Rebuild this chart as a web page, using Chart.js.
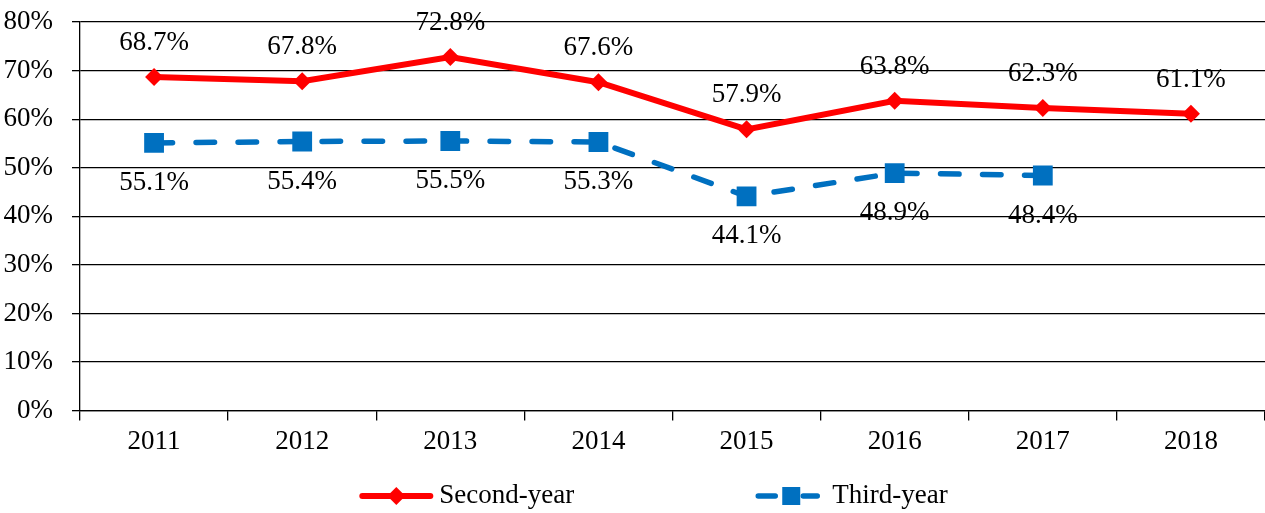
<!DOCTYPE html>
<html>
<head>
<meta charset="utf-8">
<script src="https://cdn.jsdelivr.net/npm/chart.js@4"></script>
<style>
  html, body { margin: 0; padding: 0; background: #fff; overflow: hidden; }
  #wrap { width: 1265px; height: 513px; }
</style>
</head>
<body>
<div id="wrap"><canvas id="myChart"></canvas></div>
<script>
// chart data
const years = ['2011', '2012', '2013', '2014', '2015', '2016', '2017', '2018'];
const secondYear = [68.7, 67.8, 72.8, 67.6, 57.9, 63.8, 62.3, 61.1];
const thirdYear = [55.1, 55.4, 55.5, 55.3, 44.1, 48.9, 48.4, null];
const seriesNames = ['Second-year', 'Third-year'];
const yMax = 80;
const yStep = 10;

const RED = '#FF0000';
const BLUE = '#0070C0';
const FONT = "'Liberation Serif', 'Times New Roman', serif";
const FONT_SIZE = 27;

Chart.defaults.font.family = FONT;
Chart.defaults.font.size = FONT_SIZE;
Chart.defaults.color = '#000';

// value labels above / below the points
const valueLabels = {
    id: 'valueLabels',
    afterDatasetsDraw(chart) {
        const ctx = chart.ctx;
        ctx.save();
        ctx.font = FONT_SIZE + 'px ' + FONT;
        ctx.fillStyle = '#000';
        ctx.textAlign = 'center';
        ctx.textBaseline = 'middle';
        chart.data.datasets.forEach((ds, i) => {
            const meta = chart.getDatasetMeta(i);
            const dy = ds.labelAbove ? -34 : 40;
            meta.data.forEach((pt, j) => {
                const v = ds.data[j];
                if (v == null) return;
                ctx.fillText(v.toFixed(1) + '%', pt.x, pt.y + dy);
            });
        });
        ctx.restore();
    }
};

// legend with line + marker, like the office chart
const lineLegend = {
    id: 'lineLegend',
    afterDraw(chart) {
        const ctx = chart.ctx;
        const y = 496;
        ctx.save();
        ctx.font = FONT_SIZE + 'px ' + FONT;
        const w1 = ctx.measureText(seriesNames[0]).width;
        const w2 = ctx.measureText(seriesNames[1]).width;
        const total = 72 + 7 + w1 + 181 + 65 + 12 + w2;
        const cx = 654;
        let x = cx - total / 2;

        // second-year: solid red line with diamond
        ctx.strokeStyle = RED;
        ctx.lineWidth = 6;
        ctx.lineCap = 'round';
        ctx.beginPath();
        ctx.moveTo(x + 2, y);
        ctx.lineTo(x + 70, y);
        ctx.stroke();
        ctx.fillStyle = RED;
        ctx.beginPath();
        ctx.moveTo(x + 36 - 9, y);
        ctx.lineTo(x + 36, y - 9);
        ctx.lineTo(x + 36 + 9, y);
        ctx.lineTo(x + 36, y + 9);
        ctx.closePath();
        ctx.fill();
        x += 72 + 7;
        ctx.fillStyle = '#000';
        ctx.textBaseline = 'middle';
        ctx.fillText(seriesNames[0], x, y);
        x += w1 + 181;

        // third-year: dashed blue line with square
        ctx.strokeStyle = BLUE;
        ctx.lineWidth = 5.5;
        ctx.beginPath();
        ctx.moveTo(x + 3, y);
        ctx.lineTo(x + 20, y);
        ctx.moveTo(x + 48, y);
        ctx.lineTo(x + 62, y);
        ctx.stroke();
        ctx.fillStyle = BLUE;
        ctx.fillRect(x + 27, y - 9, 18, 18);
        x += 65 + 12;
        ctx.fillStyle = '#000';
        ctx.fillText(seriesNames[1], x, y);
        ctx.restore();
    }
};

const ctx = document.getElementById('myChart').getContext('2d');
new Chart(ctx, {
    type: 'line',
    data: {
        labels: years,
        datasets: [{
            label: seriesNames[0],
            data: secondYear,
            borderColor: RED,
            backgroundColor: RED,
            borderWidth: 6,
            pointStyle: 'rectRot',
            pointRadius: 9,
            pointHoverRadius: 9,
            pointBorderWidth: 0,
            tension: 0,
            labelAbove: true
        }, {
            label: seriesNames[1],
            data: thirdYear,
            borderColor: BLUE,
            backgroundColor: BLUE,
            borderWidth: 5.5,
            borderDash: [18.5, 23.5],
            borderCapStyle: 'round',
            pointStyle: 'rect',
            pointRadius: 14,
            pointHoverRadius: 14,
            pointBorderWidth: 0,
            tension: 0,
            labelAbove: false
        }]
    },
    options: {
        responsive: true,
        maintainAspectRatio: false,
        animation: false,
        layout: {
            autoPadding: false,
            padding: { left: 0, right: 0, top: 22, bottom: 50 }
        },
        scales: {
            x: {
                offset: true,
                afterFit: s => { s.paddingLeft = 0; s.paddingRight = 0; },
                grid: {
                    offset: true,
                    drawOnChartArea: false,
                    drawTicks: true,
                    tickLength: 10,
                    color: '#000',
                    lineWidth: 1.3
                },
                border: { display: true, color: '#000', width: 1.3 },
                ticks: { padding: 5, color: '#000' }
            },
            y: {
                min: 0,
                max: yMax,
                afterFit: s => { s.width = 80; s.paddingTop = 0; s.paddingBottom = 0; },
                grid: {
                    color: '#000',
                    lineWidth: 1.3,
                    tickLength: 8
                },
                border: { display: true, color: '#000', width: 1.3 },
                ticks: {
                    stepSize: yStep,
                    padding: 19,
                    color: '#000',
                    callback: v => v + '%'
                }
            }
        },
        plugins: {
            legend: { display: false },
            tooltip: { enabled: false }
        }
    },
    plugins: [valueLabels, lineLegend]
});
</script>
</body>
</html>
